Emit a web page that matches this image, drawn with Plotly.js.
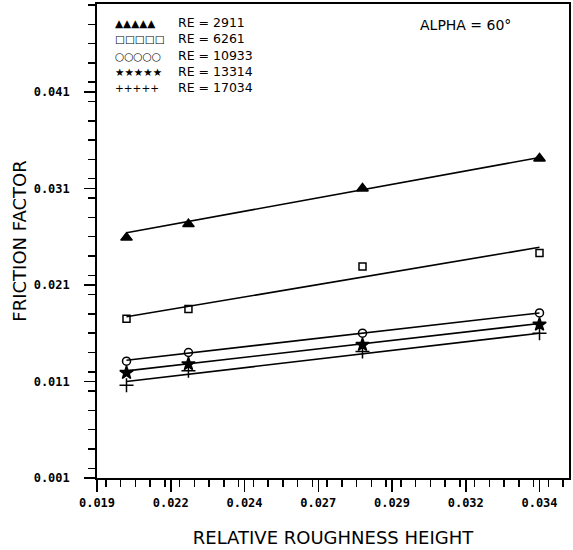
<!DOCTYPE html>
<html>
<head>
<meta charset="utf-8">
<script src="https://cdn.plot.ly/plotly-3.0.1.min.js"></script>
<style>html,body{margin:0;padding:0;background:#fff;}#chart{width:573px;height:550px;}</style>
</head>
<body>
<div id="chart"></div>
<script>
// Relative roughness height (x) at the four measured positions
var roughness = [0.0202, 0.0223, 0.0282, 0.0342];

// Reynolds numbers of the series
var reLabels = ['RE = 2911', 'RE = 6261', 'RE = 10933', 'RE = 13314', 'RE = 17034'];

// Measured friction factors
var f2911  = [0.0259, 0.0273, 0.0310, 0.0341];
var f6261  = [0.0175, 0.0185, 0.0229, 0.0243];
var f10933 = [0.0131, 0.0140, 0.0160, 0.0181];
var f13314 = [0.0119, 0.0128, 0.0148, 0.0169];
var f17034 = [0.0106, 0.0121, 0.0141, 0.0160];

// Fitted straight lines: values at first and last roughness
var fit2911  = [0.0264, 0.0342];
var fit6261  = [0.0177, 0.0249];
var fit10933 = [0.0132, 0.0181];
var fit13314 = [0.0121, 0.0170];
var fit17034 = [0.0110, 0.0160];

var symbols = ['triangle-up', 'square-open', 'circle-open', 'star', 'cross-thin-open'];
var legendGlyphs = ['\u25B2\u25B2\u25B2\u25B2\u25B2', '\u25A1\u25A1\u25A1\u25A1\u25A1', '\u25CB\u25CB\u25CB\u25CB\u25CB', '\u2605\u2605\u2605\u2605\u2605', '+++++'];
var sizes = [10, 7, 8, 10, 10];

var series = [f2911, f6261, f10933, f13314, f17034];
var fits = [fit2911, fit6261, fit10933, fit13314, fit17034];
var fitX = [roughness[0], roughness[roughness.length - 1]];

var traces = [];
for (var i = 0; i < series.length; i++) {
  traces.push({
    x: fitX, y: fits[i], mode: 'lines', type: 'scatter',
    line: {color: '#000', width: 1.6}, showlegend: false, hoverinfo: 'skip'
  });
  traces.push({
    x: roughness, y: series[i], mode: 'markers', type: 'scatter', name: reLabels[i],
    marker: {symbol: symbols[i], size: sizes[i], color: '#000',
             line: {color: '#000', width: 1.5}},
    showlegend: false
  });
}

var legendFont = {family: 'DejaVu Sans', size: 12.5, color: '#000'};
var glyphLines = legendGlyphs.map(function (g) { return '<span style="font-size:10.5px">' + g + '</span>'; });
var annotations = [
  {xref: 'paper', yref: 'paper', x: 0.034, y: 0.892, xanchor: 'left', yanchor: 'middle', align: 'left',
   text: glyphLines.join('<br>'), showarrow: false, font: legendFont},
  {xref: 'paper', yref: 'paper', x: 0.167, y: 0.892, xanchor: 'left', yanchor: 'middle', align: 'left',
   text: reLabels.join('<br>'), showarrow: false, font: legendFont},
  {xref: 'paper', yref: 'paper', x: 0.68, y: 0.956, xanchor: 'left', yanchor: 'middle',
   text: 'ALPHA = 60\u00B0', showarrow: false, font: {family: 'DejaVu Sans', size: 14, color: '#000'}}
];

var layout = {
  width: 573, height: 550,
  margin: {l: 97, r: 4, t: 4, b: 72},
  paper_bgcolor: '#fff', plot_bgcolor: '#fff',
  showlegend: false,
  xaxis: {
    range: [0.0192, 0.0352], tick0: 0.0192, dtick: 0.0025, tickformat: '.3f',
    ticks: 'outside', ticklen: 12, tickwidth: 1.5, tickcolor: '#000',
    minor: {dtick: 0.0005, ticks: 'outside', ticklen: 7, tickwidth: 1.5, tickcolor: '#000', showgrid: false},
    showline: true, linecolor: '#000', linewidth: 1.8, mirror: true,
    showgrid: false, zeroline: false, ticklabelstandoff: 1,
    tickfont: {family: 'DejaVu Sans Mono', size: 12, color: '#000', weight: 'bold'},
    title: {text: 'RELATIVE ROUGHNESS HEIGHT', font: {family: 'DejaVu Sans', size: 18, color: '#000'}, standoff: 22}
  },
  yaxis: {
    range: [0.001, 0.0501], tick0: 0.001, dtick: 0.01, tickformat: '.3f',
    ticks: 'outside', ticklen: 11, tickwidth: 1.5, tickcolor: '#000',
    minor: {dtick: 0.002, ticks: 'outside', ticklen: 7, tickwidth: 1.5, tickcolor: '#000', showgrid: false},
    showline: true, linecolor: '#000', linewidth: 1.8, mirror: true,
    showgrid: false, zeroline: false, ticklabelstandoff: 12,
    tickfont: {family: 'DejaVu Sans Mono', size: 12, color: '#000', weight: 'bold'},
    title: {text: 'FRICTION FACTOR', font: {family: 'DejaVu Sans', size: 18, color: '#000'}, standoff: 2}
  },
  annotations: annotations
};

Plotly.newPlot('chart', traces, layout, {displayModeBar: false, staticPlot: true});
</script>
</body>
</html>
